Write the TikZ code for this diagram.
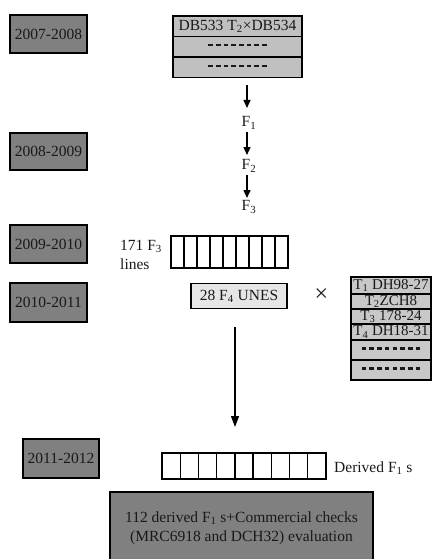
\documentclass[tikz,border=0pt]{standalone}
\usepackage{fontspec}
\setmainfont{Liberation Serif}
\usetikzlibrary{arrows.meta}
\definecolor{yeargray}{HTML}{808080}
\definecolor{rowgray}{HTML}{C0C0C0}
\definecolor{tabgray}{HTML}{C8C8C8}
\definecolor{palegray}{HTML}{E6E6E6}
\newcommand\dsh{\rule[3.2pt]{4.6pt}{2.2pt}}
\newcommand\dashtxt{\dsh\hspace{3.1pt}\dsh\hspace{3.1pt}\dsh\hspace{3.1pt}\dsh\hspace{3.1pt}\dsh\hspace{3.1pt}\dsh\hspace{3.1pt}\dsh\hspace{3.1pt}\dsh}
\begin{document}
\begin{tikzpicture}[x=1pt,y=-1pt,
  every node/.style={font=\fontsize{15.5}{19}\selectfont, inner sep=0pt, text=black!90},
  yearbox/.style={draw=black, line width=1.6pt, fill=yeargray, minimum width=77pt, minimum height=38pt},
  toprow/.style={draw=black, line width=1.5pt, fill=rowgray, minimum width=129pt, minimum height=20.5pt},
  tabrow/.style={draw=black, line width=1.3pt, fill=tabgray, minimum width=80pt, minimum height=#1, font=\fontsize{15}{18}\selectfont},
  cell/.style={draw=black, line width=1.3pt, fill=white},
  arr/.style={-{Triangle[width=7pt,length=8pt]}, line width=1.5pt},
  longarr/.style={-{Triangle[width=8pt,length=11pt]}, line width=1.2pt}
]
\useasboundingbox (0,0) rectangle (436,559);
\clip (0,0) rectangle (436,559);

% year boxes
\node[yearbox] (y1) at (48.5,34) {2007-2008};
\node[yearbox, minimum height=37pt] (y2) at (48.5,151.5) {2008-2009};
\node[yearbox] (y3) at (48.5,244) {2009-2010};
\node[yearbox, minimum height=39pt] (y4) at (48.5,302.5) {2010-2011};
\node[yearbox, minimum width=76pt, minimum height=39pt] (y5) at (61,458.5) {2011-2012};

% top parent box
\node[toprow] (t1) at (237.5,26.5) {DB533 T\textsubscript{2}\texttimes DB534};
\node[toprow] (t2) at (237.5,47) {\dashtxt};
\node[toprow] (t3) at (237.5,67.5) {\dashtxt};

% generations
\coordinate (a1s) at (247,85);
\coordinate (a1e) at (247,108);
\coordinate (a2s) at (247,132);
\coordinate (a2e) at (247,155);
\coordinate (a3s) at (247,175);
\coordinate (a3e) at (247,198);
\node (f1) at (249,123) {F\textsubscript{1}};
\node (f2) at (249,166) {F\textsubscript{2}};
\node (f3) at (249,207) {F\textsubscript{3}};
\draw[arr] (a1s) -- (a1e);
\draw[arr] (a2s) -- (a2e);
\draw[arr] (a3s) -- (a3e);

% 171 F3 lines
\node[align=left, anchor=west] (lines) at (120,255) {171 F\textsubscript{3}\\lines};
\foreach \i in {0,...,8}{
  \node[cell, minimum width=13pt, minimum height=32pt] (ga\i) at ({177.5+13*\i},252) {};
}

% 28 F4 UNES
\node[draw=black, line width=1.5pt, fill=palegray, minimum width=96pt, minimum height=25pt] (unes) at (239,296) {28 F\textsubscript{4} UNES};
\node[font=\fontsize{24}{26}\selectfont] (times) at (321.5,295) {\texttimes};

% testers table
\node[tabrow=17pt] (r1) at (391,285.5) {T\textsubscript{1} DH98-27};
\node[tabrow=15pt] (r2) at (391,301.5) {T\textsubscript{2}ZCH8};
\node[tabrow=15pt] (r3) at (391,316.5) {T\textsubscript{3} 178-24};
\node[tabrow=16pt] (r4) at (391,332) {T\textsubscript{4} DH18-31};
\node[tabrow=20pt] (r5) at (391,350) {\dashtxt};
\node[tabrow=20pt] (r6) at (391,370) {\dashtxt};

% long arrow
\coordinate (la) at (235,327);
\coordinate (lb) at (235,427);
\draw[longarr] (la) -- (lb);

% derived F1 grid
\foreach \i in {0,...,8}{
  \node[cell, minimum width=18.22pt, minimum height=26pt] (gb\i) at ({171.11+18.22*\i},466) {};
}
\node[anchor=west] (der) at (334,468) {Derived F\textsubscript{1} s};

% evaluation box
\node[draw=black, line width=1.5pt, fill=yeargray, minimum width=263pt, minimum height=72pt, align=center] (eval) at (241.5,528) {112 derived F\textsubscript{1} s+Commercial checks\\(MRC6918 and DCH32) evaluation};
\end{tikzpicture}
\end{document}
